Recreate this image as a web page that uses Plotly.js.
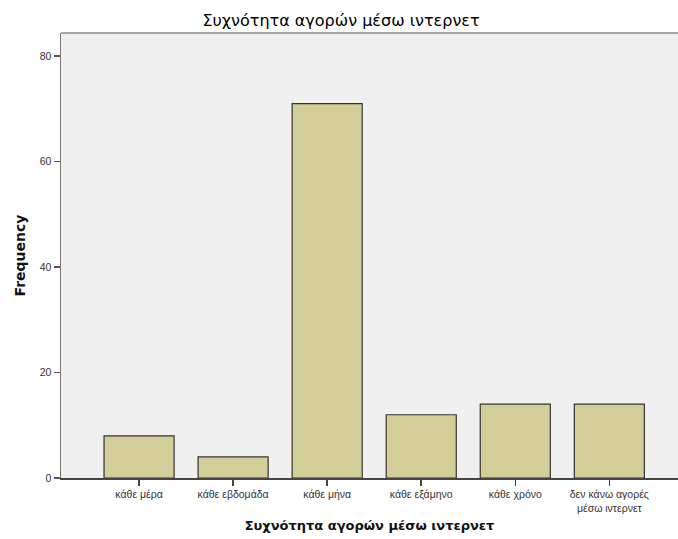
<!DOCTYPE html>
<html>
<head>
<meta charset="utf-8">
<script src="https://cdn.plot.ly/plotly-3.0.1.min.js"></script>
<style>html,body{margin:0;padding:0;background:#fff;}#chart{width:678px;height:539px;}</style>
</head>
<body>
<div id="chart"></div>
<script>
const categories = ["κάθε μέρα", "κάθε εβδομάδα", "κάθε μήνα", "κάθε εξάμηνο", "κάθε χρόνο", "δεν κάνω αγορές<br>μέσω ιντερνετ"];
const frequencies = [8, 4, 71, 12, 14, 14];
const yTicks = [0, 20, 40, 60, 80];
const chartTitle = "Συχνότητα αγορών μέσω ιντερνετ";
const xTitle = "Συχνότητα αγορών μέσω ιντερνετ";
const yTitle = "Frequency";

const trace = {
  type: "bar",
  x: categories.map((c, i) => i),
  y: frequencies,
  width: 0.745,
  marker: {color: "#d3ce97", line: {color: "#333333", width: 1.2}},
  hoverinfo: "none"
};

const layout = {
  width: 678, height: 539,
  margin: {l: 61, r: 0, t: 33, b: 61},
  paper_bgcolor: "#ffffff",
  plot_bgcolor: "#f0f0f0",
  font: {family: "Liberation Sans, Arial, sans-serif", color: "#222"},
  showlegend: false,
  title: {text: chartTitle, x: 0.503, xanchor: "center", y: 0.962, yanchor: "middle",
          font: {family: "DejaVu Sans, sans-serif", size: 16, color: "#000", weight: 500}},
  xaxis: {
    range: [-0.83, 5.73],
    tickmode: "array",
    tickvals: categories.map((c, i) => i),
    ticktext: categories,
    ticks: "outside", ticklen: 6, tickwidth: 1.5, tickcolor: "#444",
    tickfont: {size: 10.5, color: "#333"},
    showline: true, linecolor: "#444", linewidth: 1.5,
    showgrid: false, zeroline: false, fixedrange: true,
    title: {text: "<b>" + xTitle + "</b>", font: {family: "DejaVu Sans, sans-serif", size: 13, color: "#111"}, standoff: 8}
  },
  yaxis: {
    range: [0, 84.4],
    tickmode: "array",
    tickvals: yTicks,
    ticks: "outside", ticklen: 6, tickwidth: 1.5, tickcolor: "#555",
    tickfont: {size: 10.5, color: "#333"},
    showline: true, linecolor: "#777", linewidth: 1.5,
    showgrid: false, zeroline: false, fixedrange: true,
    title: {text: "<b>" + yTitle + "</b>", font: {family: "DejaVu Sans, sans-serif", size: 14, color: "#111"}, standoff: 11}
  },
  shapes: [{type: "line", xref: "paper", yref: "paper", x0: 0, x1: 1, y0: 1, y1: 1,
            line: {color: "#888", width: 1.5}}]
};

Plotly.newPlot("chart", [trace], layout, {displayModeBar: false, staticPlot: true});
</script>
</body>
</html>
